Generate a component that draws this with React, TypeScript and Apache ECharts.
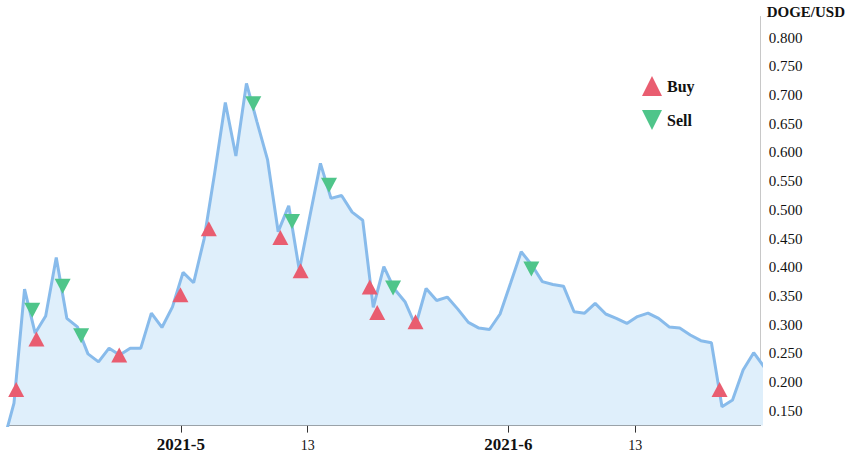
import React, { useEffect, useRef } from "react";
import * as echarts from "echarts";

const FONT = "'Liberation Serif', 'Times New Roman', serif";

// Daily DOGE/USD closes, one sample per day starting at startDay
const startDay = "2021-04-14";
const sampleHour = "05:00";
const prices = [
  0.095, 0.163, 0.362, 0.285, 0.315, 0.417, 0.311, 0.296, 0.249, 0.235,
  0.259, 0.247, 0.259, 0.259, 0.32, 0.295, 0.331,
  0.391, 0.373, 0.45, 0.565, 0.687, 0.594, 0.7205, 0.653, 0.587, 0.462,
  0.507, 0.395, 0.489, 0.581, 0.52, 0.525, 0.496, 0.482, 0.33, 0.401,
  0.362, 0.34, 0.298, 0.363, 0.342, 0.348, 0.327, 0.304, 0.294, 0.2915,
  0.3185,
  0.3725, 0.427, 0.404, 0.375, 0.37, 0.367, 0.3225, 0.32, 0.337, 0.3185,
  0.311, 0.302, 0.314, 0.32, 0.311, 0.296, 0.294, 0.282, 0.272, 0.2685,
  0.157, 0.1686, 0.221, 0.251, 0.226,
];

const buyTimes = [
  "2021-04-15 10:00", "2021-04-17 08:00", "2021-04-25 04:00", "2021-04-30 23:00",
  "2021-05-03 15:30", "2021-05-10 10:00", "2021-05-12 08:00", "2021-05-18 21:00",
  "2021-05-19 14:00", "2021-05-23 05:00", "2021-06-20 23:30",
];
const buyPrices = [0.187, 0.275, 0.247, 0.352, 0.467, 0.452, 0.394, 0.3655, 0.321, 0.305, 0.187];

const sellTimes = [
  "2021-04-16 22:30", "2021-04-19 19:30", "2021-04-21 13:30", "2021-05-07 20:30",
  "2021-05-11 12:30", "2021-05-15 00:30", "2021-05-21 02:00", "2021-06-03 04:00",
];
const sellPrices = [0.325, 0.367, 0.2805, 0.685, 0.4797, 0.5428, 0.3638, 0.397];

const xMinTime = "2021-04-14 15:24";
const xMaxTime = "2021-06-24 20:50";
const xTickDays = ["2021-05-01", "2021-05-13", "2021-06-01", "2021-06-13"];
const yMin = 0.124;
const yMax = 0.837;

function parseLocal(s: string): number {
  const [datePart, timePart] = s.split(" ");
  const [y, m, d] = datePart.split("-").map(Number);
  let hh = 0, mm = 0;
  if (timePart) {
    const t = timePart.split(":").map(Number);
    hh = t[0];
    mm = t[1];
  }
  return new Date(y, m - 1, d, hh, mm).getTime();
}

function buildPriceSeries(): [number, number][] {
  const [y, m, d] = startDay.split("-").map(Number);
  const [hh, mm] = sampleHour.split(":").map(Number);
  return prices.map((p, i) => {
    const dt = new Date(y, m - 1, d + i, hh, mm);
    return [dt.getTime(), p];
  });
}

export default function App() {
  const ref = useRef<HTMLDivElement>(null);

  useEffect(() => {
    if (!ref.current) return;
    const chart = echarts.init(ref.current, null, { renderer: "svg" });
    const tickValues = xTickDays.map(parseLocal);
    const xMin = parseLocal(xMinTime);
    const xMax = parseLocal(xMaxTime);

    const option: any = {
      animation: false,
      textStyle: { fontFamily: FONT },
      grid: { left: 8, right: 86, top: 16.5, bottom: 30.4, containLabel: false },
      legend: {
        data: ["Buy", "Sell"],
        orient: "vertical",
        left: 637,
        top: 71,
        itemWidth: 20,
        itemHeight: 20,
        itemGap: 14,
        textStyle: { fontSize: 16, fontWeight: "bold", color: "#111", fontFamily: FONT },
      },
      xAxis: [
        {
          type: "value",
          min: xMin,
          max: xMax,
          axisLine: { onZero: false, lineStyle: { color: "#555", width: 1 } },
          axisTick: { customValues: tickValues, length: 7, lineStyle: { color: "#333" } },
          axisLabel: {
            customValues: tickValues,
            margin: 10,
            formatter: (v: number) => {
              const d = new Date(v);
              if (d.getDate() === 1) return `{b|${d.getFullYear()}-${d.getMonth() + 1}}`;
              return `{n|${d.getDate()}}`;
            },
            rich: {
              b: { fontSize: 17, fontWeight: "bold", color: "#111", fontFamily: FONT },
              n: { fontSize: 14, color: "#111", fontFamily: FONT, padding: [3, 0, 0, 0] },
            },
          },
          splitLine: { show: false },
        },
        {
          type: "value",
          min: xMin,
          max: xMax,
          position: "bottom",
          axisLine: { show: false, onZero: false },
          axisTick: { inside: true, customValues: tickValues, length: 7, lineStyle: { color: "#333" } },
          axisLabel: { show: false },
          splitLine: { show: false },
        },
      ],
      yAxis: {
        type: "value",
        position: "right",
        min: yMin,
        max: yMax,
        splitNumber: 14,
        name: "DOGE/USD",
        nameLocation: "end",
        nameGap: -3,
        nameTextStyle: {
          fontSize: 15,
          fontWeight: "bold",
          color: "#111",
          fontFamily: FONT,
          align: "left",
          padding: [0, 0, 0, 6],
        },
        axisLine: { show: true, lineStyle: { color: "#c8c8c8", width: 1 } },
        axisTick: { show: false },
        axisLabel: {
          showMinLabel: false,
          showMaxLabel: false,
          margin: 8,
          fontSize: 15,
          color: "#111",
          fontFamily: FONT,
          formatter: (v: number) => v.toFixed(3),
        },
        splitLine: { show: false },
      },
      series: [
        {
          type: "line",
          data: buildPriceSeries(),
          showSymbol: false,
          symbol: "none",
          lineStyle: { color: "#88bbeb", width: 3 },
          itemStyle: { color: "#88bbeb" },
          areaStyle: { color: "#dfeffb", opacity: 1 },
          z: 1,
        },
        {
          name: "Buy",
          type: "scatter",
          data: buyTimes.map((t, i) => [parseLocal(t), buyPrices[i]]),
          symbol: "triangle",
          symbolSize: [16, 15],
          itemStyle: { color: "#e95d70", opacity: 1 },
          z: 3,
        },
        {
          name: "Sell",
          type: "scatter",
          data: sellTimes.map((t, i) => [parseLocal(t), sellPrices[i]]),
          symbol: "path://M0,0L10,0L5,10Z",
          symbolSize: [16, 15],
          itemStyle: { color: "#4fc58a", opacity: 1 },
          z: 3,
        },
      ],
    };
    chart.setOption(option);
    return () => chart.dispose();
  }, []);

  return (
    <div
      ref={ref}
      style={{ position: "fixed", left: 0, top: 0, width: 848, height: 456, background: "#fff" }}
    />
  );
}
